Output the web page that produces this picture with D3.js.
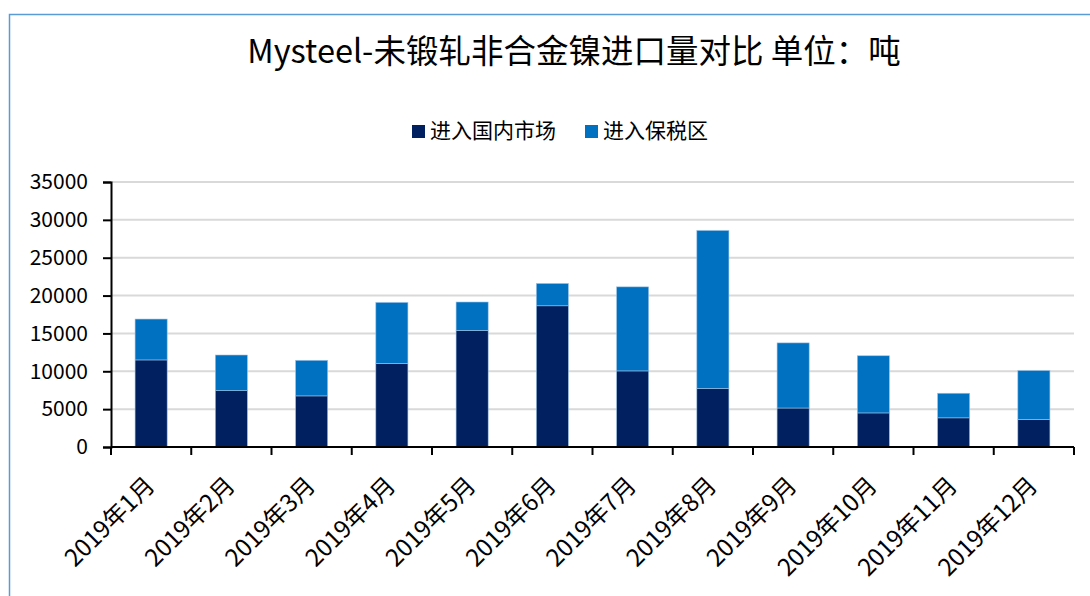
<!DOCTYPE html>
<html>
<head>
<meta charset="utf-8">
<script src="https://cdn.jsdelivr.net/npm/d3@7"></script>
<style>
  html, body { margin: 0; padding: 0; background: #fff; }
  text { font-family: "Microsoft YaHei", "Noto Sans CJK SC", sans-serif; fill: #000; }
</style>
</head>
<body>
<div id="chart"></div>
<script>
"use strict";

// === DATA ===
const months = ["2019年1月", "2019年2月", "2019年3月", "2019年4月", "2019年5月", "2019年6月",
  "2019年7月", "2019年8月", "2019年9月", "2019年10月", "2019年11月", "2019年12月"];
const domestic = [11500, 7450, 6750, 11050, 15400, 18650, 10050, 7750, 5150, 4500, 3850, 3650];
const bonded = [5400, 4700, 4700, 8050, 3750, 2950, 11100, 20850, 8600, 7550, 3250, 6450];
const seriesNames = ["进入国内市场", "进入保税区"];
const seriesColors = ["#002060", "#0070c0"];
const yTicks = [0, 5000, 10000, 15000, 20000, 25000, 30000, 35000];

// === SVG SETUP ===
const width = 1090, height = 596;
const plot = { left: 111, right: 1074, top: 182, bottom: 447 };

const svg = d3.select("#chart")
  .append("svg")
  .attr("width", width)
  .attr("height", height);

// chart frame (runs off the right / bottom edge like the screenshot)
svg.append("rect")
  .attr("x", 9.5)
  .attr("y", 14.5)
  .attr("width", 1130)
  .attr("height", 620)
  .attr("fill", "none")
  .attr("stroke", "#5b9bd5")
  .attr("stroke-width", 1.5);

// === SCALES ===
const x = d3.scaleBand()
  .domain(months)
  .range([plot.left, plot.right])
  .paddingInner(0.6)
  .paddingOuter(0.3);

const y = d3.scaleLinear()
  .domain([0, 35000])
  .range([plot.bottom, plot.top]);

// === GRIDLINES ===
svg.append("g")
  .selectAll("line")
  .data(yTicks.slice(1))
  .enter()
  .append("line")
  .attr("x1", plot.left)
  .attr("x2", plot.right)
  .attr("y1", d => y(d))
  .attr("y2", d => y(d))
  .attr("stroke", "#d9d9d9")
  .attr("stroke-width", 2);

// === STACKED BARS ===
const rows = months.map((m, i) => ({ month: m, domestic: domestic[i], bonded: bonded[i] }));
const stack = d3.stack().keys(["domestic", "bonded"])(rows);

svg.append("g")
  .selectAll("g")
  .data(stack)
  .enter()
  .append("g")
  .attr("fill", (d, i) => seriesColors[i])
  .selectAll("rect")
  .data(d => d)
  .enter()
  .append("rect")
  .attr("x", d => x(d.data.month))
  .attr("width", x.bandwidth())
  .attr("y", d => y(d[1]))
  .attr("height", d => y(d[0]) - y(d[1]))
  .attr("stroke", "#9dc3e6")
  .attr("stroke-width", 0.6);

// === Y AXIS ===
const yAxis = svg.append("g")
  .attr("transform", `translate(${plot.left},0)`)
  .call(d3.axisLeft(y).tickValues(yTicks).tickSize(8).tickPadding(15).tickFormat(d => d));
yAxis.select(".domain").attr("stroke", "#000").attr("stroke-width", 2);
yAxis.selectAll(".tick line").attr("stroke", "#000").attr("stroke-width", 2);
yAxis.selectAll(".tick text")
  .attr("font-size", "21px")
  .attr("font-family", "\"Microsoft YaHei\", \"Noto Sans CJK SC\", sans-serif")
  .attr("fill", "#000");

// === X AXIS ===
const xAxis = svg.append("g");
xAxis.append("line")
  .attr("x1", plot.left)
  .attr("x2", plot.right)
  .attr("y1", plot.bottom)
  .attr("y2", plot.bottom)
  .attr("stroke", "#000")
  .attr("stroke-width", 2);

xAxis.selectAll("line.tick")
  .data(d3.range(months.length + 1))
  .enter()
  .append("line")
  .attr("class", "tick")
  .attr("x1", i => plot.left + i * x.step())
  .attr("x2", i => plot.left + i * x.step())
  .attr("y1", plot.bottom)
  .attr("y2", plot.bottom + 8)
  .attr("stroke", "#000")
  .attr("stroke-width", 2);

xAxis.selectAll("text")
  .data(months)
  .enter()
  .append("text")
  .attr("transform", d => `translate(${x(d) + x.bandwidth() / 2 + 5},${plot.bottom + 40}) rotate(-45)`)
  .attr("text-anchor", "end")
  .attr("font-size", "24px")
  .text(d => d);

// === TITLE ===
svg.append("text")
  .attr("x", 574)
  .attr("y", 63)
  .attr("text-anchor", "middle")
  .attr("font-size", "32.5px")
  .text("Mysteel-未锻轧非合金镍进口量对比 单位：吨");

// === LEGEND ===
const legendX = [412, 585];
seriesNames.forEach((name, i) => {
  svg.append("rect")
    .attr("x", legendX[i])
    .attr("y", 125)
    .attr("width", 13)
    .attr("height", 13)
    .attr("fill", seriesColors[i]);

  svg.append("text")
    .attr("x", legendX[i] + 18)
    .attr("y", 138)
    .attr("font-size", "21px")
    .text(name);
});
</script>
</body>
</html>
